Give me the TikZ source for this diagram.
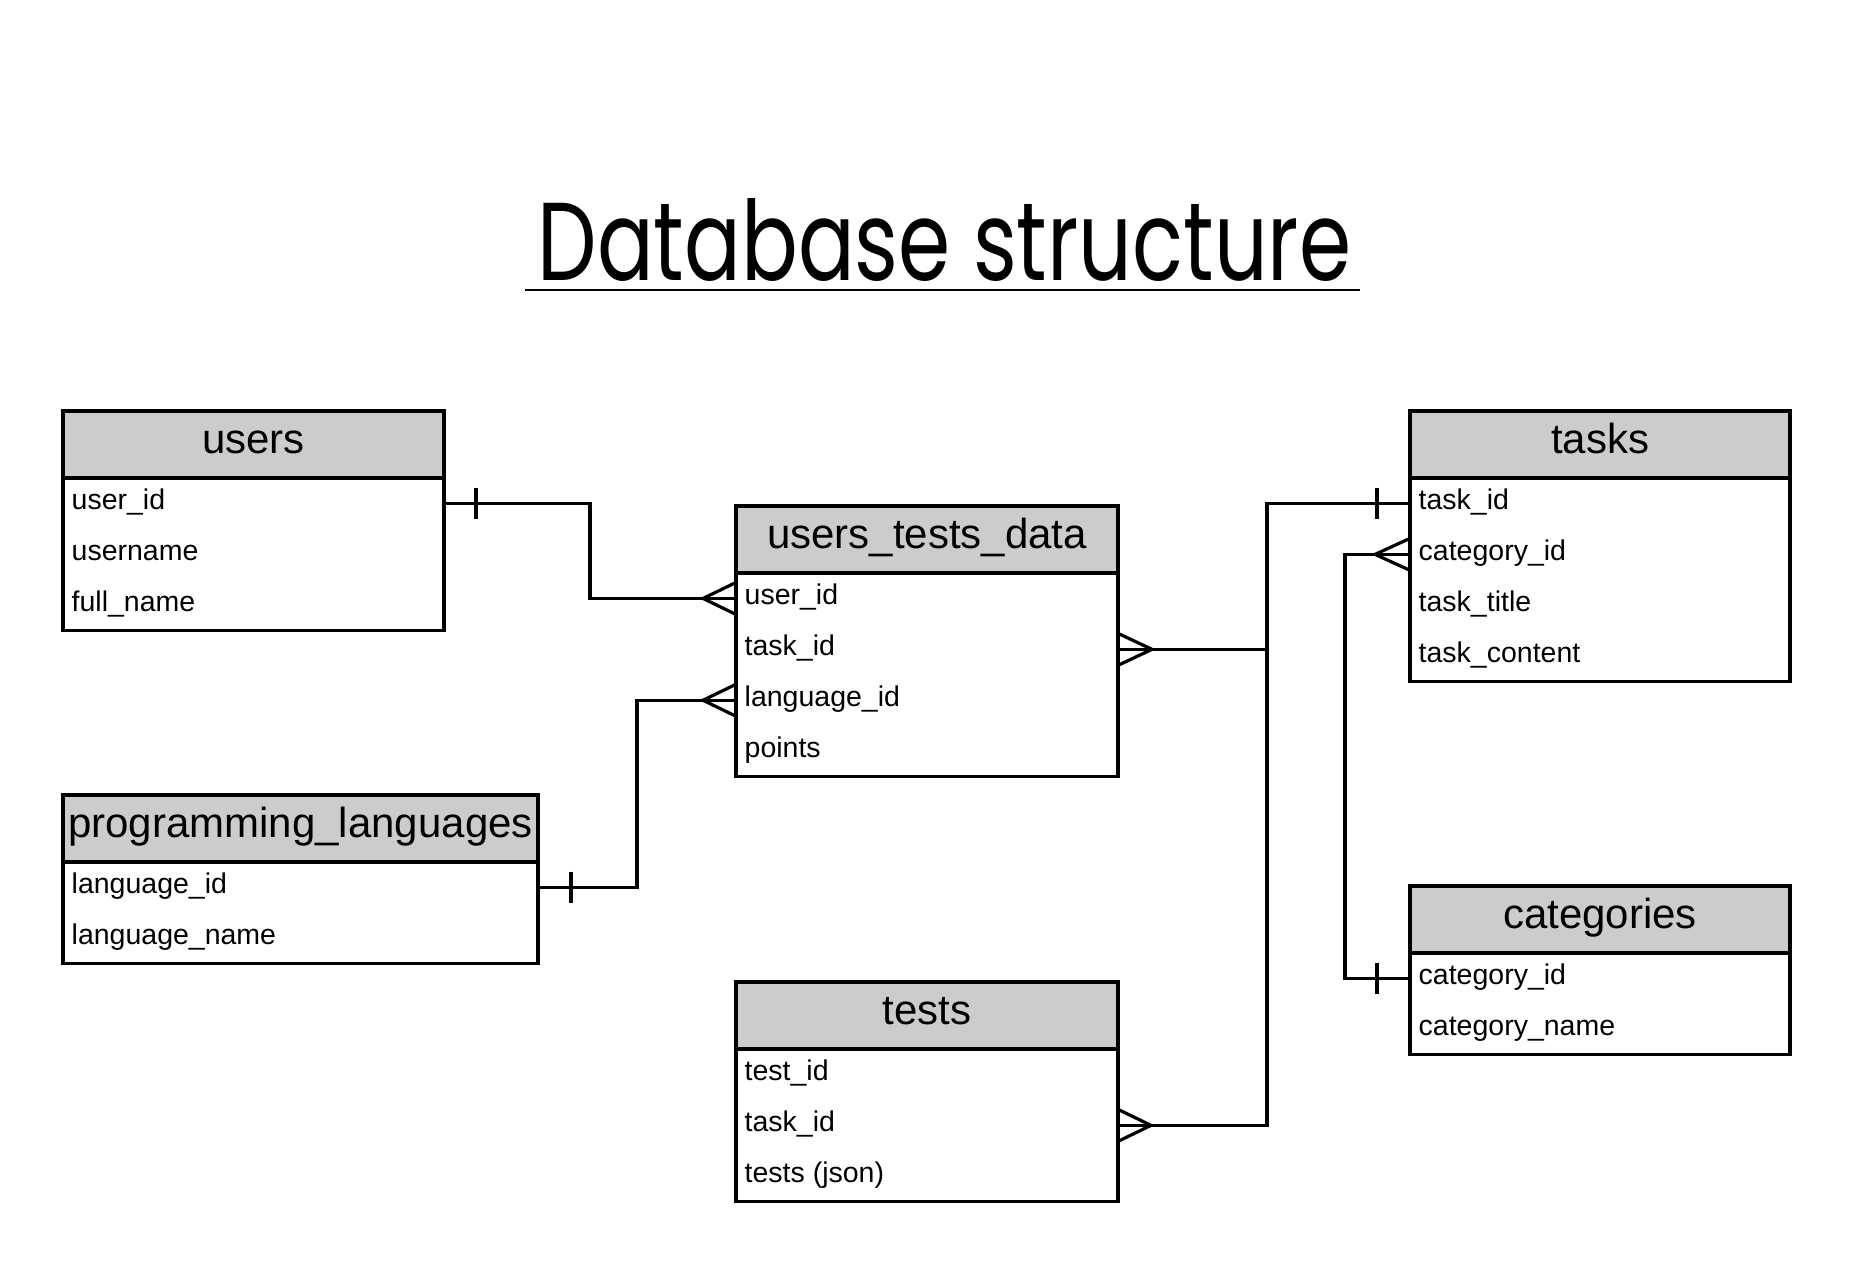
\documentclass[tikz,border=0pt]{standalone}
\usepackage{fontspec}
\setmainfont{Liberation Sans}
\newfontfamily\titlefont{Poppins}
\usetikzlibrary{calc}
\definecolor{hdrgray}{HTML}{CCCCCC}
\tikzset{
  hdrbox/.style={draw, line width=3.2pt, fill=hdrgray, minimum height=67pt, inner sep=0pt, outer sep=0pt},
  rowbox/.style={minimum height=50.9pt, inner sep=0pt, outer sep=0pt},
  tblline/.style={draw, line width=3.2pt},
  hdrtext/.style={font=\fontsize{42}{48}\selectfont, inner sep=0pt},
  rowtext/.style={font=\fontsize{28.5}{32}\selectfont, inner sep=0pt},
  conn/.style={line width=3.2pt, line join=miter},
}
\newcommand{\mktable}[7]{%
  \node[hdrbox, minimum width=#4pt, anchor=north west] (#1) at (#2,#3) {};
  \node[hdrtext, anchor=base] (#1-title) at ($(#1.south)+(0,-25)$) {#5};
  \draw[tblline] (#1.south west) rectangle ++(#4,{#6*50.9});
  \foreach \rowlabel [count=\i] in {#7} {
    \node[rowbox, minimum width=#4pt, anchor=north west] (#1-\i) at ($(#1.south west)+(0,{(\i-1)*50.9})$) {};
    \node[rowtext, anchor=base west] (#1-\i-t) at ($(#1-\i.west)+(8.5,6)$) {\rowlabel};
  }
}
\begin{document}
\begin{tikzpicture}[x=1pt,y=-1pt]
\fill[white] (0,0) rectangle (1855,1264);
\useasboundingbox (0,0) rectangle (1855,1264);

\node[anchor=base, inner sep=0pt] (title) at (944.5,280) {\resizebox{813pt}{82pt}{\titlefont Database structure}};
\draw[line width=1.3pt] ($(title.base west)+(-13,10)$) -- ($(title.base east)+(9,10)$);

\mktable{users}{63}{411}{381}{users}{3}{user\_id, username, full\_name}
\mktable{utd}{736}{506}{382}{users\_tests\_data}{4}{user\_id, task\_id, language\_id, points}
\mktable{pl}{63}{795}{475}{programming\_languages}{2}{language\_id, language\_name}
\mktable{tests}{736}{982}{382}{tests}{3}{test\_id, task\_id, tests (json)}
\mktable{tasks}{1410}{411}{380}{tasks}{4}{task\_id, category\_id, task\_title, task\_content}
\mktable{categories}{1410}{886}{380}{categories}{2}{category\_id, category\_name}

\coordinate (bus) at (1267,0);
\coordinate (bus2) at (1345,0);

% connectors
\draw[conn] (users-1.east) -| ($(users-1.east)!0.5!(utd-1.west)$) |- (utd-1.west);
\draw[conn] (pl-1.east) -| ($(pl-1.east)!0.5!(utd-3.west)$) |- (utd-3.west);
\draw[conn] (utd-2.east) -- (bus |- utd-2.east);
\draw[conn] (tests-2.east) -- (bus |- tests-2.east) -- (bus |- tasks-1.west) -- (tasks-1.west);
\draw[conn] (tasks-2.west) -- (bus2 |- tasks-2.west) -- (bus2 |- categories-1.west) -- (categories-1.west);

% one marks
\draw[conn] ($(users-1.east)+(32,-15.5)$) -- ++(0,31);
\draw[conn] ($(pl-1.east)+(33,-15.5)$) -- ++(0,31);
\draw[conn] ($(tasks-1.west)+(-33,-15.5)$) -- ++(0,31);
\draw[conn] ($(categories-1.west)+(-33,-15.5)$) -- ++(0,31);

% many marks
\draw[conn] ($(utd-1.west)+(0,-16)$) -- ($(utd-1.west)+(-33,0)$) -- ($(utd-1.west)+(0,16)$);
\draw[conn] ($(utd-3.west)+(0,-16)$) -- ($(utd-3.west)+(-33,0)$) -- ($(utd-3.west)+(0,16)$);
\draw[conn] ($(utd-2.east)+(0,-16)$) -- ($(utd-2.east)+(34,0)$) -- ($(utd-2.east)+(0,16)$);
\draw[conn] ($(tests-2.east)+(0,-16)$) -- ($(tests-2.east)+(33,0)$) -- ($(tests-2.east)+(0,16)$);
\draw[conn] ($(tasks-2.west)+(0,-16)$) -- ($(tasks-2.west)+(-35,0)$) -- ($(tasks-2.west)+(0,16)$);
\end{tikzpicture}
\end{document}
